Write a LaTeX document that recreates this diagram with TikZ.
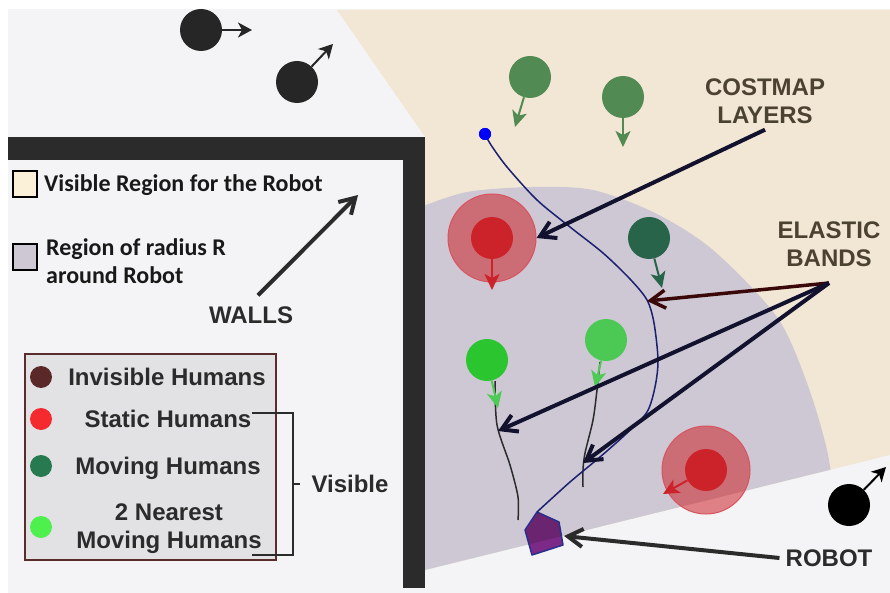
\documentclass[tikz,border=0pt]{standalone}
\usepackage{fontspec}
\setmainfont{Liberation Sans}
\newfontfamily\calibri{Carlito}
\usepackage{xcolor}
\usepackage{tikz}
\usetikzlibrary{arrows.meta}
\definecolor{bgrey}{HTML}{F4F4F6}
\definecolor{beige}{HTML}{F2E7D5}
\definecolor{keybeige}{HTML}{FBF0D8}
\definecolor{radcol}{HTML}{CDC8D3}
\definecolor{wallcol}{HTML}{2B2B2B}
\definecolor{darkhum}{HTML}{262626}
\definecolor{hgreen}{HTML}{518A52}
\definecolor{hdgreen}{HTML}{27644A}
\definecolor{hlgreen}{HTML}{2BC52F}
\definecolor{hlgreenb}{HTML}{4CC854}
\definecolor{hlgarrow}{HTML}{4DCB55}
\definecolor{hred}{HTML}{CC2229}
\definecolor{hrededge}{HTML}{D9535E}
\definecolor{navyarrow}{HTML}{12122E}
\definecolor{maroonarrow}{HTML}{3A0808}
\definecolor{olivetext}{HTML}{4B4232}
\definecolor{trajblue}{HTML}{1B2070}
\definecolor{legfill}{HTML}{E2E1E4}
\definecolor{legedge}{HTML}{5A2D2D}
\definecolor{keyinv}{HTML}{5A2828}
\definecolor{keystat}{HTML}{F42A2E}
\definecolor{keymov}{HTML}{277A50}
\definecolor{keynear}{HTML}{4EF04E}
\definecolor{robotup}{HTML}{6B2470}
\definecolor{robotlow}{HTML}{7C2A88}
\definecolor{robotedge}{HTML}{2A2F8E}
\newcommand{\visreg}{(337,10) -- (890,10) -- (890,455) -- (425,570) -- (425,137) -- cycle}
\newcommand{\radreg}{plot[smooth] coordinates {(418,208) (467,192) (533,187) (593,190) (655,213) (713,250) (777,317) (807,383) (827,450) (836,510)} -- (840,600) -- (418,600) -- cycle}
\newcommand{\robshape}{(525,530) -- (537,512) -- (559,522) -- (563,545) -- (532,555) -- cycle}
\tikzset{
    human/.style={shape=circle, minimum size=42pt, inner sep=0pt},
    keydot/.style={shape=circle, minimum size=22pt, inner sep=0pt},
    keybox/.style={draw=black, line width=1.5pt, minimum width=24pt, minimum height=26pt, inner sep=0pt},
    bigarrow/.style={line width=4pt, navyarrow, -{Straight Barb[length=15pt,width=18pt]}},
    hmove/.style={line width=2pt, -{Stealth[length=16pt,width=15pt,inset=4pt]}},
    hsmall/.style={line width=2pt, -{Stealth[length=14pt,width=15pt,inset=4pt]}},
    lbl/.style={font=\fontsize{24}{28}\selectfont\bfseries, text=wallcol, align=center, inner sep=0pt},
    keytext/.style={font=\calibri\fontsize{24}{28}\selectfont\bfseries, text=black!90, align=left, inner sep=0pt, anchor=west}}

\begin{document}
\begin{tikzpicture}[x=1pt, y=-1pt]
    \useasboundingbox (0,0) rectangle (890,593);
    \fill[white] (0,0) rectangle (890,593);
    \fill[bgrey] (8,9) rectangle (890,593);
    \fill[beige] \visreg;
    \begin{scope}
        \clip \visreg;
        \fill[radcol] \radreg;
    \end{scope}
    \fill[wallcol] (8,137) rectangle (425,160);
    \fill[wallcol] (403,137) rectangle (425,588);

    \fill[robotlow] \robshape;
    \begin{scope}
        \clip \robshape;
        \clip \visreg;
        \fill[robotup] \radreg;
    \end{scope}
    \draw[robotedge, line width=1.5pt, line join=round] \robshape;
    \coordinate (robtop) at (537,512);
    \coordinate (robside) at (564,536);

    \node[human, fill=darkhum] (bA) at (201,30) {};
    \node[human, fill=darkhum] (bB) at (297,82) {};
    \node[human, fill=black] (bC) at (849,505) {};
    \coordinate (bAt) at (252,30);
    \coordinate (bBt) at (333,44);
    \coordinate (bCt) at (886,467);
    \draw[hsmall, darkhum] (bA) -- (bAt);
    \draw[hsmall, darkhum] (bB) -- (bBt);
    \draw[hsmall, black] (bC) -- (bCt);

    \node[human, fill=hgreen] (gA) at (530,77) {};
    \node[human, fill=hgreen] (gB) at (623,97) {};
    \node[human, fill=hdgreen] (dg) at (649,238) {};
    \draw[hmove, hgreen] (gA) -- (515,127);
    \draw[hmove, hgreen] (gB) -- (623,147);
    \draw[hmove, hdgreen] (dg) -- (662,288);

    \node[human, minimum size=88pt, fill=hred, fill opacity=0.55, draw=hrededge, line width=1pt] (rAo) at (492,238) {};
    \node[human, fill=hred] (rA) at (492,238) {};
    \draw[hmove, hred] (rA) -- (492,290);
    \node[human, minimum size=88pt, fill=hred, fill opacity=0.55, draw=hrededge, line width=1pt] (rBo) at (706,470) {};
    \node[human, fill=hred] (rB) at (706,470) {};
    \draw[hmove, hred] (rB) -- (663,494);

    \draw[wallcol, line width=1.5pt] plot[smooth] coordinates {(495,381) (497,425) (510,465) (518,497) (518,520)};
    \draw[wallcol, line width=1.5pt] plot[smooth] coordinates {(600,362) (597,390) (593,420) (585,453) (583,470) (583,487)};
    \node[human, fill=hlgreen] (lgA) at (487,360) {};
    \node[human, fill=hlgreenb] (lgB) at (606,340) {};
    \draw[hmove, hlgarrow] (lgA) -- (498,408);
    \draw[hmove, hlgarrow] (lgB) -- (595,387);

    \node[shape=circle, fill=blue, minimum size=12pt, inner sep=0pt] (goal) at (485,134) {};
    \draw[trajblue, line width=1.5pt] plot[smooth] coordinates {(goal) (491,145) (507,167) (537,200) (570,227) (603,253) (630,279) (647,300) (654,323) (658,360) (655,387) (647,412) (627,433) (600,457) (570,482) (robtop)};
    \node[shape=circle, fill=blue, minimum size=12pt, inner sep=0pt] at (goal) {};

    \node[lbl, text=olivetext] (cost) at (765,101) {COSTMAP\\LAYERS};
    \node[lbl, text=olivetext] (bands) at (829,244) {ELASTIC\\BANDS};
    \node[lbl] (rob) at (829,558) {ROBOT};
    \node[lbl] (walls) at (251,315) {WALLS};
    \node[lbl] (vis) at (350,484) {Visible};
    \coordinate (bandroot) at (829,283);
    \coordinate (ebA) at (647,301);
    \coordinate (ebB) at (498,431);
    \coordinate (ebC) at (583,463);
    \coordinate (walltip) at (358,195);

    \draw[bigarrow] ([yshift=-6pt]cost.south) -- (rAo.east);
    \draw[bigarrow, maroonarrow, line width=3.5pt] (bandroot) -- (ebA);
    \draw[bigarrow] (bandroot) -- (ebB);
    \draw[bigarrow] (bandroot) -- (ebC);
    \draw[bigarrow, wallcol] ([xshift=-6pt]rob.west) -- (robside);
    \draw[bigarrow, wallcol] ([shift={(7pt,11pt)}]walls.north) -- (walltip);

    \node[keybox, fill=keybeige] (keyA) at (25,184) {};
    \node[keytext] (keyAt) at (44,185) {Visible Region for the Robot};
    \node[keybox, fill=radcol] (keyB) at (25,257) {};
    \node[keytext] (keyBt) at (46,261) {Region of radius R\\around Robot};

    \node[draw=legedge, fill=legfill, line width=1.5pt, minimum width=251pt, minimum height=206pt, anchor=north west, inner sep=0pt] (legend) at (24,353) {};
    \node[keydot, fill=keyinv] (dInv) at (41,377) {};
    \node[keydot, fill=keystat] (dStat) at (41,419) {};
    \node[keydot, fill=keymov] (dMov) at (41,466) {};
    \node[keydot, fill=keynear] (dNear) at (41,527) {};
    \node[lbl] (tInv) at (167,377) {Invisible Humans};
    \node[lbl] (tStat) at (168,419) {Static Humans};
    \node[lbl] (tMov) at (168,468) {Moving Humans};
    \node[lbl] (tNear) at (169,529) {2 Nearest\\Moving Humans};
    \draw[wallcol, line width=1.5pt] (252,413) -| (293,555) -- (252,555);
    \draw[wallcol, line width=1.5pt] (293,484) -- (300,484);
\end{tikzpicture}
\end{document}
